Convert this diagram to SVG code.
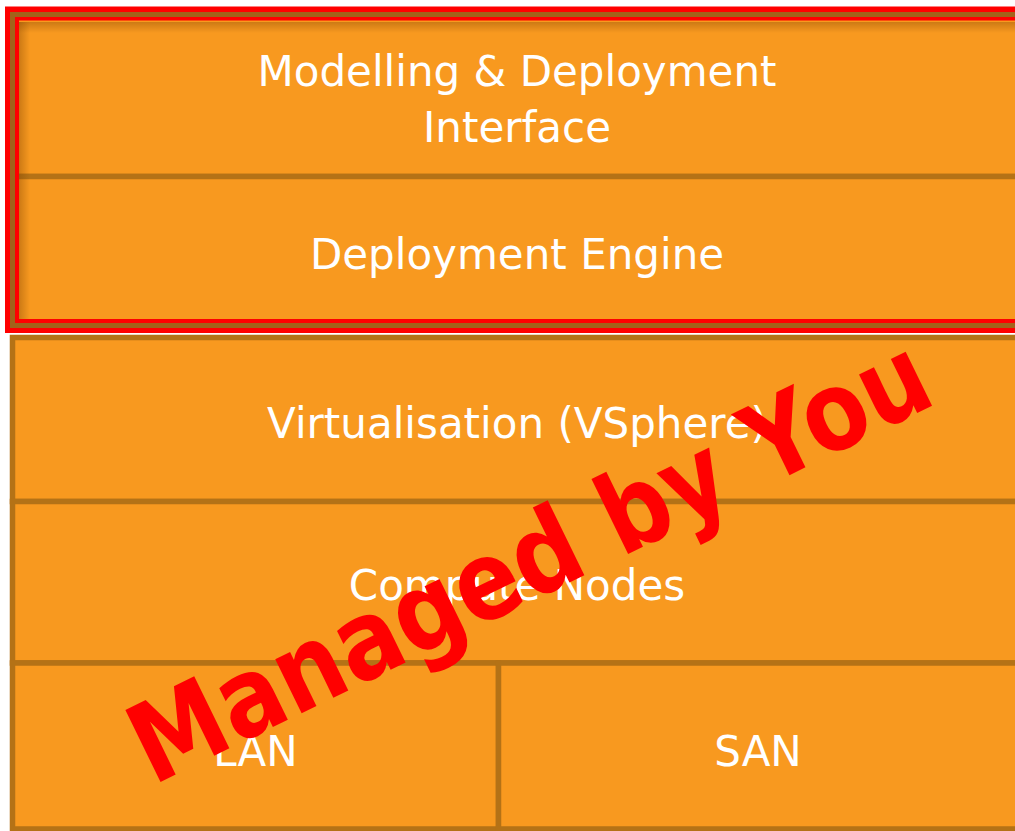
<svg xmlns="http://www.w3.org/2000/svg" width="1015" height="831" viewBox="0 0 1015 831">
  <defs>
    <style>
      .box { fill: #F8991F; stroke: #B47216; stroke-width: 5.5; }
      .label { font-family: "DejaVu Sans", Verdana, sans-serif; font-size: 42px; fill: #FFFFFF; text-anchor: middle; }
      .stamp { font-family: "DejaVu Sans", Verdana, sans-serif; font-weight: bold; font-size: 110px; fill: #FF0000; text-anchor: middle; }
    </style>
    <linearGradient id="shadeL" x1="0" y1="0" x2="1" y2="0">
      <stop offset="0" stop-color="#7a3f00" stop-opacity="0.35"/>
      <stop offset="1" stop-color="#7a3f00" stop-opacity="0"/>
    </linearGradient>
    <linearGradient id="shadeT" x1="0" y1="0" x2="0" y2="1">
      <stop offset="0" stop-color="#7a3f00" stop-opacity="0.35"/>
      <stop offset="1" stop-color="#7a3f00" stop-opacity="0"/>
    </linearGradient>
  </defs>
  <rect x="0" y="0" width="1015" height="831" fill="#FFFFFF"/>

  <g id="lower-stack">
    <g id="virtualisation">
      <rect class="box" x="12.5" y="337.5" width="1010" height="164"/>
      <text class="label" x="517" y="438">Virtualisation (VSphere)</text>
    </g>
    <g id="compute-nodes">
      <rect class="box" x="12.5" y="501.5" width="1010" height="161.5"/>
      <text class="label" x="517" y="600">Compute Nodes</text>
    </g>
    <g id="lan">
      <rect class="box" x="12.5" y="663" width="486" height="166"/>
      <text class="label" x="255.5" y="766">LAN</text>
    </g>
    <g id="san">
      <rect class="box" x="498.5" y="663" width="524" height="166"/>
      <text class="label" x="758" y="766">SAN</text>
    </g>
  </g>

  <g id="managed-group">
    <g id="modelling-interface">
      <rect class="box" x="12.5" y="14.5" width="1010" height="162"/>
      <text class="label" x="517" y="86">Modelling &amp; Deployment</text>
      <text class="label" x="517" y="142">Interface</text>
    </g>
    <g id="deployment-engine">
      <rect class="box" x="12.5" y="176.5" width="1010" height="149"/>
      <text class="label" x="517" y="269">Deployment Engine</text>
    </g>
    <rect x="19" y="22" width="11" height="297" fill="url(#shadeL)"/>
    <rect x="19" y="22" width="1000" height="11" fill="url(#shadeT)"/>
    <rect x="12" y="13.5" width="1012" height="312.5" fill="none" stroke="#FF0000" stroke-width="14"/>
    <rect x="12.5" y="14.5" width="1010" height="311" fill="none" stroke="#A2621A" stroke-width="5"/>
  </g>

  <g id="connectors"/>

  <text class="stamp" x="546" y="594" transform="rotate(-26 546 594)" textLength="875" lengthAdjust="spacingAndGlyphs">Managed by You</text>
</svg>
